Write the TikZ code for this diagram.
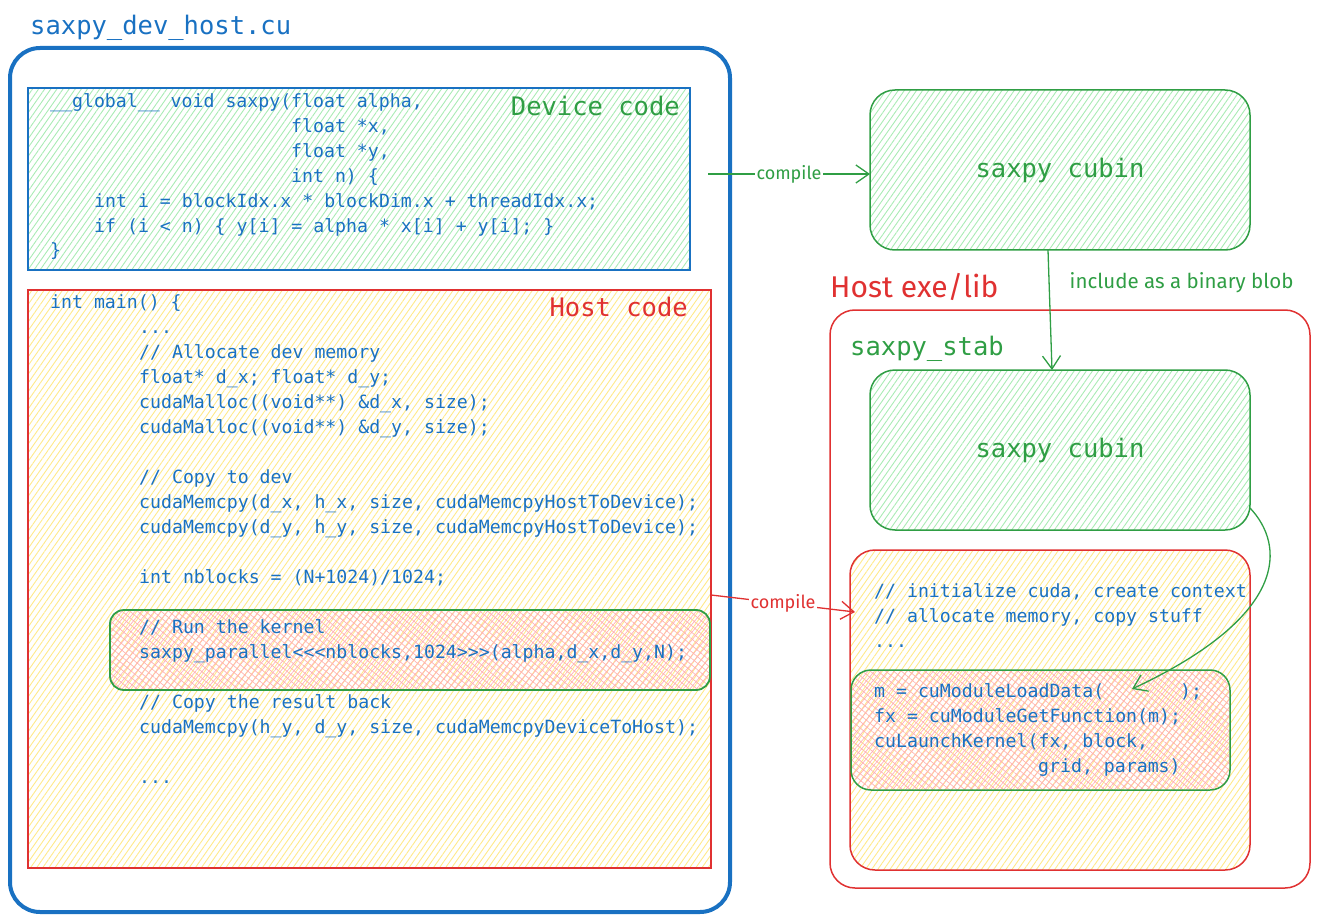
\documentclass[tikz,border=0pt]{standalone}
\usepackage{fontspec}
\setmainfont{Fira Sans}
\newfontfamily\codefont{DejaVu Sans Mono}
\usetikzlibrary{patterns.meta,arrows.meta}
\definecolor{exblue}{HTML}{1971C2}
\definecolor{exgreen}{HTML}{2F9E44}
\definecolor{exred}{HTML}{E03131}
\definecolor{hgreen}{HTML}{A9EBB4}
\definecolor{hyellow}{HTML}{FFE98A}
\definecolor{hred}{HTML}{FFB3B3}
\begin{document}
\begin{tikzpicture}[x=1pt,y=-1pt,
  code/.style={font=\codefont\fontsize{18.2}{25}\selectfont, text=exblue, anchor=base west, inner sep=0pt},
  title/.style={font=\codefont\fontsize{25.5}{30}\selectfont, inner sep=0pt},
  handtitle/.style={font=\fontsize{30}{34}\selectfont, inner sep=0pt},
  hand/.style={font=\fontsize{18}{20}\selectfont, inner sep=1.5pt},
  box/.style={anchor=north west, inner sep=0pt, outer sep=0pt},
  greenhatch/.style={pattern={Lines[angle=55,distance=5pt,line width=0.9pt]}, pattern color=hgreen},
  yellowhatch/.style={pattern={Lines[angle=55,distance=5pt,line width=0.9pt]}, pattern color=hyellow},
  redhatch/.style={pattern={Hatch[angle=50,distance=5pt,line width=0.7pt]}, pattern color=hred},
  garrow/.style={draw=exgreen, line width=1.3pt, -{Straight Barb[length=13pt,width=18pt]}},
  rarrow/.style={draw=exred, line width=1.3pt, -{Straight Barb[length=13pt,width=18pt]}}
]
\useasboundingbox (0,0) rectangle (1320,920);

% ---- left file box ----
\node[box, draw=exblue, line width=4pt, rounded corners=30pt, minimum width=720, minimum height=864] (file) at (10,48) {};
\node[title, text=exblue, anchor=base west] (ftitle) at (30,35) {saxpy\_dev\_host.cu};

% device code
\node[box, draw=exblue, line width=2pt, greenhatch, minimum width=662, minimum height=182] (dev) at (28,88) {};
\node[title, text=exgreen, anchor=base east] (devlbl) at (680,116) {Device code};
\node[code] (d1) at (50,108) {\_\_global\_\_ void saxpy(float alpha,};
\node[code] (d2) at (291,133) {float *x,};
\node[code] (d3) at (291,158) {float *y,};
\node[code] (d4) at (291,183) {int n) \{};
\node[code] (d5) at (94,208) {int i = blockIdx.x * blockDim.x + threadIdx.x;};
\node[code] (d6) at (94,233) {if (i {<} n) \{ y[i] = alpha * x[i] + y[i]; \}};
\node[code] (d7) at (50,257) {\}};

% host code
\node[box, draw=exred, line width=1.5pt, yellowhatch, minimum width=683, minimum height=578] (host) at (28,290) {};
\node[box, draw=exgreen, line width=1.8pt, rounded corners=14pt, redhatch, minimum width=600, minimum height=80] (kern) at (110,610) {};
\node[title, text=exred, anchor=base east] (hostlbl) at (688,316) {Host code};
\node[code] (h1) at (50,308) {int main() \{};
\node[code] (h2) at (139,333) {...};
\node[code] (h3) at (139,358) {// Allocate dev memory};
\node[code] (h4) at (139,383) {float* d\_x; float* d\_y;};
\node[code] (h5) at (139,408) {cudaMalloc((void**) \&d\_x, size);};
\node[code] (h6) at (139,433) {cudaMalloc((void**) \&d\_y, size);};
\node[code] (h7) at (139,483) {// Copy to dev};
\node[code] (h8) at (139,508) {cudaMemcpy(d\_x, h\_x, size, cudaMemcpyHostToDevice);};
\node[code] (h9) at (139,533) {cudaMemcpy(d\_y, h\_y, size, cudaMemcpyHostToDevice);};
\node[code] (h10) at (139,583) {int nblocks = (N+1024)/1024;};
\node[code] (h11) at (139,633) {// Run the kernel};
\node[code] (h12) at (139,658) {saxpy\_parallel{<}{<}{<}nblocks,1024{>}{>}{>}(alpha,d\_x,d\_y,N);};
\node[code] (h13) at (139,708) {// Copy the result back};
\node[code] (h14) at (139,733) {cudaMemcpy(h\_y, d\_y, size, cudaMemcpyDeviceToHost);};
\node[code] (h15) at (139,783) {...};

% ---- right side ----
\node[box, draw=exgreen, line width=1.5pt, rounded corners=25pt, greenhatch, minimum width=380, minimum height=160, title, text=exgreen] (cubin1) at (870,90) {saxpy cubin};

\node[box, draw=exred, line width=1.5pt, rounded corners=25pt, minimum width=480, minimum height=578] (exe) at (830,310) {};
\node[handtitle, text=exred, anchor=base west] (exelbl) at (830,297) {Host exe/lib};
\node[title, text=exgreen, anchor=base west] (stablbl) at (850,355) {saxpy\_stab};

\node[box, draw=exgreen, line width=1.5pt, rounded corners=25pt, greenhatch, minimum width=380, minimum height=160, title, text=exgreen] (cubin2) at (870,370) {saxpy cubin};

\node[box, draw=exred, line width=1.5pt, rounded corners=25pt, yellowhatch, minimum width=400, minimum height=320] (stub) at (850,550) {};
\node[box, draw=exgreen, line width=1.5pt, rounded corners=20pt, redhatch, minimum width=379, minimum height=120] (load) at (851,670) {};

\node[code] (s1) at (874,597) {// initialize cuda, create context};
\node[code] (s2) at (874,622) {// allocate memory, copy stuff};
\node[code] (s3) at (874,647) {...};
\node[code] (s4) at (874,697) {m = cuModuleLoadData(};
\node[code] (s4b) at (1180,697) {);};
\node[code] (s5) at (874,722) {fx = cuModuleGetFunction(m);};
\node[code] (s6) at (874,747) {cuLaunchKernel(fx, block,};
\node[code] (s7) at (1038,772) {grid, params)};

% ---- connectors ----
\draw[garrow] ([xshift=18pt,yshift=5pt]dev.east) coordinate (cs) -- (cs -| cubin1.west)
  node[hand, midway, fill=white, text=exgreen] (c1lbl) {compile};

\draw[garrow] ([xshift=-12pt]cubin1.south) -- ([xshift=-8pt]cubin2.north)
  node[hand, pos=0.27, anchor=west, xshift=20pt, text=exgreen, inner sep=0pt, font=\fontsize{20.5}{22}\selectfont] (inclbl) {include as a binary blob};

\draw[rarrow] ([yshift=-16pt]host.east) -- ([xshift=5pt,yshift=98pt]stub.west)
  node[hand, midway, fill=white, text=exred] (c2lbl) {compile};

\coordinate (blob) at (1132,689);
\draw[garrow] ([yshift=-58pt]cubin2.east) .. controls (1285,545) and (1290,615) .. (blob);

\end{tikzpicture}
\end{document}
